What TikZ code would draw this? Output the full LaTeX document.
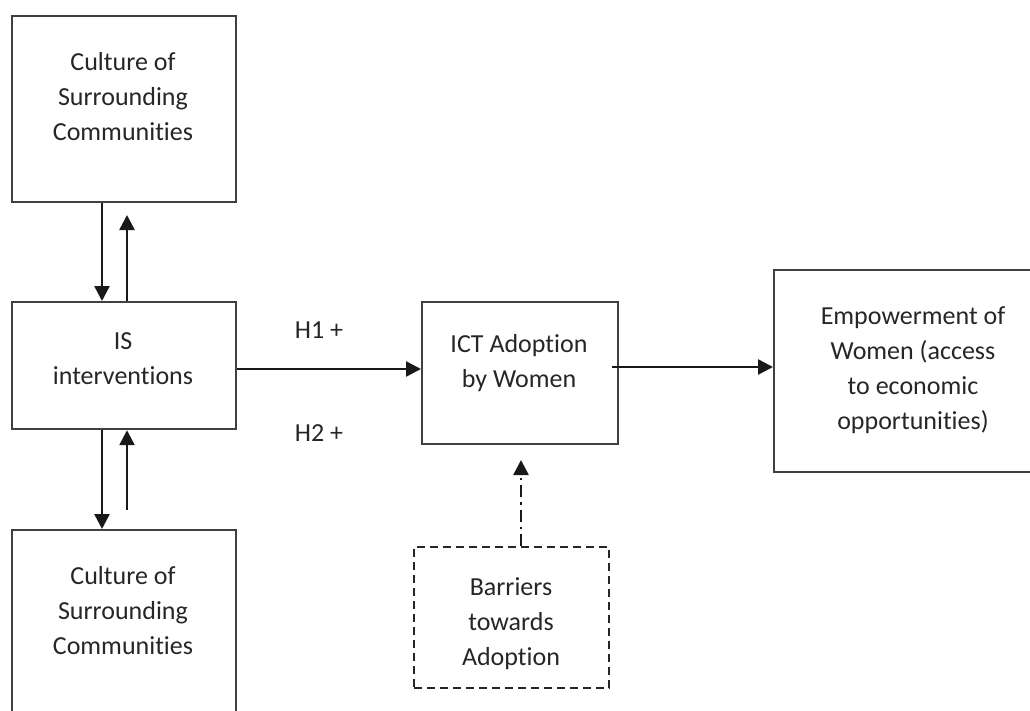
\documentclass[tikz,border=0pt]{standalone}
\usepackage{fontspec}
\setmainfont[Ligatures={NoCommon,NoContextual,NoRare}]{Carlito}
\usetikzlibrary{arrows.meta}
% plain "t" followed by "i", kept apart from the font's ti ligature
\newcommand{\tiSep}{t\kern0pt i}
\begin{document}
\begin{tikzpicture}[x=1pt,y=-1pt,
  box/.style={draw=black!75,line width=2.2pt,inner sep=0pt,anchor=north west},
  dbox/.style={box,draw=black!85,dash pattern=on 8pt off 5pt},
  txt/.style={align=center,inner sep=0pt,text=black!85,
    font=\fontsize{26}{35}\selectfont},
  arr/.style={draw=black!90,line width=2.5pt,
    -{Triangle[length=15pt,width=15pt]}},
  darr/.style={arr,dash pattern=on 12pt off 5pt on 2.5pt off 5pt}]
\useasboundingbox (0,0) rectangle (1030,710);
\clip (0,0) rectangle (1030,710);

% boxes
\node[box,minimum width=224pt,minimum height=186pt] (cultT) at (11,15) {};
\node[box,minimum width=224pt,minimum height=127pt] (is) at (11,301) {};
\node[box,minimum width=224pt,minimum height=186pt] (cultB) at (11,529) {};
\node[box,minimum width=196pt,minimum height=142pt] (ict) at (421,301) {};
\node[box,minimum width=280pt,minimum height=202pt] (emp) at (773,269) {};
\node[dbox,minimum width=195pt,minimum height=141pt] (bar) at (413,546) {};

% box texts
\node[txt] (cultTt) at (123,97) {Culture of\\Surrounding\\Communi\tiSep es};
\node[txt] (ist) at (123,359) {IS\\interventions};
\node[txt] (cultBt) at (123,611) {Culture of\\Surrounding\\Communi\tiSep es};
\node[txt] (ictt) at (519,363) {ICT Adop\tiSep on\\by Women};
\node[txt] (empt) at (913,370) {Empowerment of\\Women (access\\to economic\\opportuni\tiSep es)};
\node[txt] (bart) at (511,624) {Barriers\\towards\\Adop\tiSep on};

% hypothesis labels
\node[txt] (h1) at (319,330) {H1 +};
\node[txt] (h2) at (319,433) {H2 +};

% helper coordinates
\coordinate (xa) at (102,0);
\coordinate (tipA) at (127,215);
\coordinate (tailB) at (127,510);
\coordinate (hy) at (0,369);
\coordinate (e0) at (612,367);
\coordinate (bTip) at (521,460);

% connectors
\draw[arr] (cultT.south -| xa) -- (is.north -| xa);
\draw[arr] (is.north -| tipA) -- (tipA);
\draw[arr] (is.south -| xa) -- (cultB.north -| xa);
\draw[arr] (tailB) -- (is.south -| tailB);
\draw[arr] (is.east |- hy) -- (ict.west |- hy);
\draw[arr] (e0) -- (emp.west |- e0);
\draw[darr] (bar.north -| bTip) -- (bTip);
\end{tikzpicture}
\end{document}
